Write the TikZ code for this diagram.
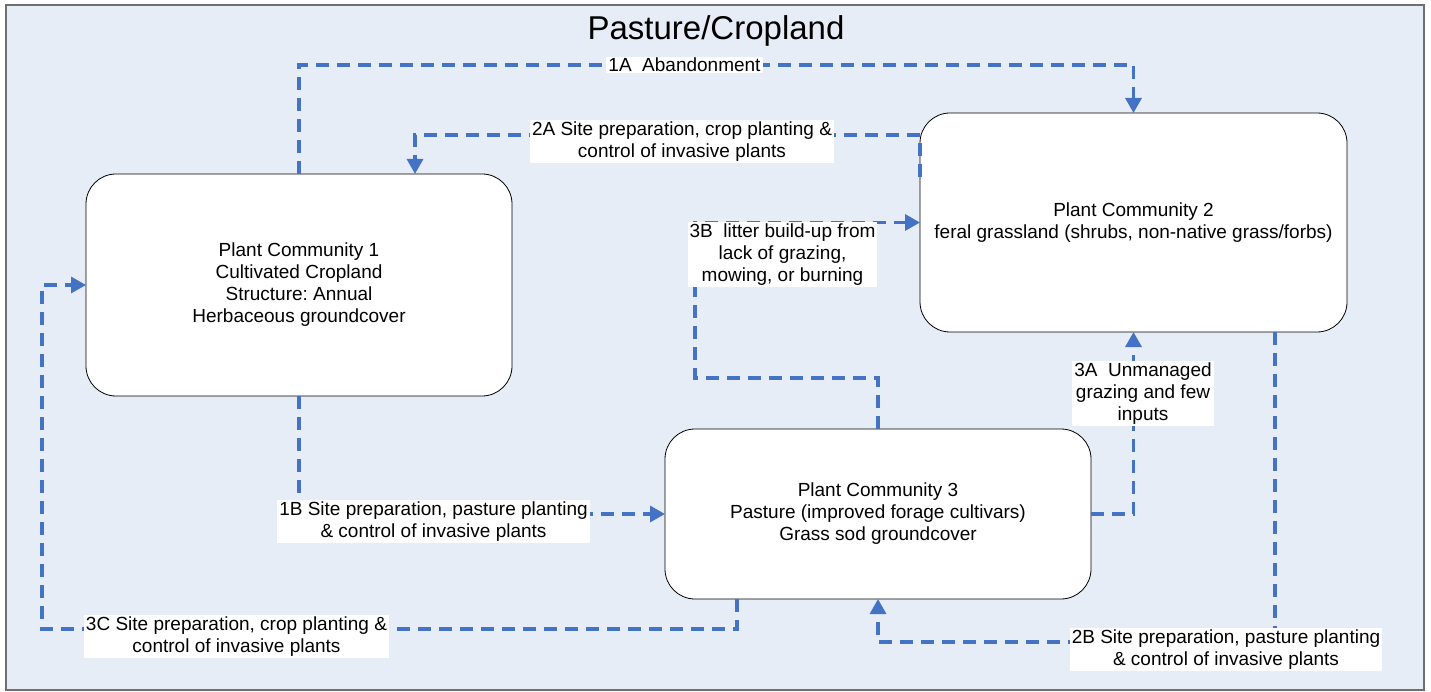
\documentclass[tikz,border=0pt]{standalone}
\usepackage{fontspec}
\setmainfont{Liberation Sans}
\usetikzlibrary{arrows.meta}
\definecolor{bgblue}{HTML}{E6EDF7}
\definecolor{framegray}{HTML}{6F6F6F}
\definecolor{connblue}{HTML}{4472C4}
\frenchspacing
\begin{document}
\begin{tikzpicture}[x=1pt,y=-1pt,
  community/.style={draw=black, line width=0.8pt, fill=white, rounded corners=30pt,
    align=center, inner sep=0pt, outer sep=0pt,
    font=\fontsize{19}{22}\selectfont},
  conn/.style={draw=connblue, line width=3.2pt, dash pattern=on 13pt off 8pt,
    -{Triangle[width=16pt,length=15pt]}},
  lbl/.style={fill=white, align=center, inner xsep=2pt, inner ysep=1.5pt,
    font=\fontsize{19}{22}\selectfont}]
\useasboundingbox (0,0) rectangle (1431,692);
\draw[fill=bgblue, draw=framegray, line width=1.5pt] (6,5) rectangle (1424,690);
\node[font=\fontsize{33}{37}\selectfont, anchor=base] (title) at (716,40) {Pasture/Cropland};

\node[community, minimum width=426pt, minimum height=222pt] (n1) at (299,285)
  {Plant Community 1\\Cultivated Cropland\\Structure: Annual\\Herbaceous groundcover};
\node[community, minimum width=427pt, minimum height=219pt] (n2) at (1133.5,222.5)
  {Plant Community 2\\feral grassland (shrubs, non-native grass/forbs)};
\node[community, minimum width=426pt, minimum height=170pt] (n3) at (878,514)
  {Plant Community 3\\Pasture (improved forage cultivars)\\Grass sod groundcover};

\coordinate (y1a) at (0,65);
\coordinate (s2a) at (920,177);
\coordinate (y2a) at (0,135);
\coordinate (x2a) at (415,0);
\coordinate (y3b) at (0,378);
\coordinate (x3b) at (695,0);
\coordinate (x2b) at (1275,0);
\coordinate (y2b) at (0,642);
\coordinate (x3c) at (737,0);
\coordinate (y3c) at (0,629);
\coordinate (x3c2) at (42,0);

% 1A
\draw[conn] (n1.north) -- (n1.north |- y1a) -- (n2.north |- y1a) -- (n2.north);
% 2A
\draw[conn] (s2a) -- (s2a |- y2a) -- (x2a |- y2a) -- (x2a |- n1.north);
% 3B
\draw[conn] (n3.north) -- (n3.north |- y3b) -- (x3b |- y3b) -- (x3b |- n2.west) -- (n2.west);
% 3A
\draw[conn] (n3.east) -- (n3.east -| n2.south) -- (n2.south);
% 1B
\draw[conn] (n1.south) |- (n3.west);
% 2B
\draw[conn] (x2b |- n2.south) -- (x2b |- y2b) -- (n3.south |- y2b) -- (n3.south);
% 3C
\draw[conn] (x3c |- n3.south) -- (x3c |- y3c) -- (x3c2 |- y3c) -- (x3c2 |- n1.west) -- (n1.west);

\node[lbl] (l1a) at (684.5,65) {1A\ \ Abandonment};
\node[lbl] (l2a) at (682,141.5) {2A Site preparation, crop planting \&\\control of invasive plants};
\node[lbl] (l3b) at (782.5,254.5) {3B\ \ litter build-up from\\lack of grazing,\\mowing, or burning};
\node[lbl] (l3a) at (1143,393.5) {3A\ \ Unmanaged\\grazing and few\\inputs};
\node[lbl] (l1b) at (433.5,521.5) {1B Site preparation, pasture planting\\\& control of invasive plants};
\node[lbl] (l3c) at (236.5,636.5) {3C Site preparation, crop planting \&\\control of invasive plants};
\node[lbl] (l2b) at (1226,649.5) {2B Site preparation, pasture planting\\\& control of invasive plants};
\end{tikzpicture}
\end{document}
